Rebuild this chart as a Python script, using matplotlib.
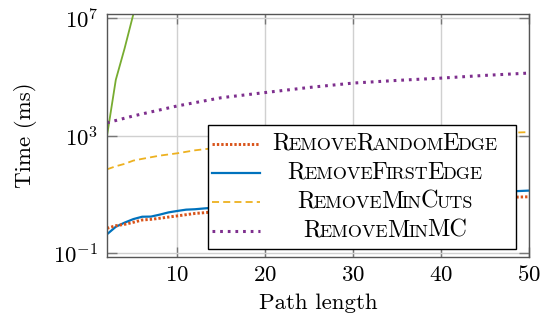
import numpy as np
import matplotlib
matplotlib.use("Agg")
import matplotlib.pyplot as plt
from matplotlib.patches import Rectangle
from matplotlib.lines import Line2D
from matplotlib.offsetbox import TextArea, HPacker, AnnotationBbox

plt.rcParams['font.family'] = 'serif'
plt.rcParams['font.serif'] = ['cmr10']
plt.rcParams['mathtext.fontset'] = 'cm'
plt.rcParams['axes.formatter.use_mathtext'] = True
plt.rcParams['axes.unicode_minus'] = False

# ---- data ----
x_rand = [2, 3, 4, 5, 6, 7, 8, 10, 12, 14, 20, 30, 40, 50]
t_rand = [0.72, 0.88, 0.98, 1.15, 1.38, 1.45, 1.58, 1.9, 2.3, 2.57, 3.6, 5.4, 7.1, 8.5]

x_first = [2, 3, 4, 5, 6, 7, 8, 9, 10, 11, 12, 13, 14, 20, 30, 40, 48, 50]
t_first = [0.45, 0.81, 1.12, 1.48, 1.78, 1.8, 2.1, 2.5, 2.8, 3.1, 3.2, 3.4, 3.6, 5.0, 7.6, 10.5, 13.0, 13.8]

x_cuts = [2, 3, 4, 5, 6, 8, 10, 12, 14, 20, 30, 40, 50]
t_cuts = [73, 93, 112, 145, 166, 214, 257, 324, 380, 537, 794, 1070, 1350]

x_mc = [2, 5, 10, 15, 20, 25, 30, 35, 40, 45, 50]
t_mc = [2800, 4800, 10500, 20000, 30000, 44700, 63000, 77600, 93000, 115000, 138000]

x_green = [2, 3, 4, 5, 6]
t_green = [1000, 8.1e4, 9.5e5, 1.4e7, 2.0e8]

labels = ["RemoveRandomEdge", "RemoveFirstEdge", "RemoveMinCuts", "RemoveMinMC"]
xticks = [10, 20, 30, 40, 50]
yticks = [1e-1, 1e3, 1e7]

c_red = '#D95319'
c_blue = '#0072BD'
c_orange = '#EDB120'
c_purple = '#7E2F8E'
c_green = '#77AC30'

FS = 16.5

fig = plt.figure(figsize=(5.48, 3.22), dpi=100)
W, H = 548, 322
L, R, T, B = 107, 529, 14, 257
ax = fig.add_axes([L / W, 1 - B / H, (R - L) / W, (B - T) / H])

style_red = dict(color=c_red, lw=2.1, linestyle=(0, (0.8, 0.7)), dash_capstyle='butt')
style_blue = dict(color=c_blue, lw=1.6, linestyle='-')
style_orange = dict(color=c_orange, lw=1.3, linestyle=(0, (3.9, 2.3)), dash_capstyle='butt')
style_purple = dict(color=c_purple, lw=2.2, linestyle=(0, (0.9, 1.6)), dash_capstyle='butt')

ax.plot(x_green, t_green, color=c_green, lw=1.3, zorder=2)
ax.plot(x_mc, t_mc, zorder=2, **style_purple)
ax.plot(x_cuts, t_cuts, zorder=2, **style_orange)
ax.plot(x_first, t_first, zorder=2, **style_blue)
ax.plot(x_rand, t_rand, zorder=2, **style_red)

ax.set_yscale('log')
ax.set_xlim(2, 50)
ax.set_ylim(10 ** -1.12, 10 ** 7.15)
ax.set_xticks(xticks)
ax.set_yticks(yticks)
ax.yaxis.set_minor_locator(matplotlib.ticker.NullLocator())
ax.grid(True, color='#d0d0d0', lw=1.0)
ax.set_axisbelow(True)
ax.tick_params(direction='in', top=True, right=True, length=7, width=1.0,
               color='#777777', labelsize=FS, pad=6)
for s in ax.spines.values():
    s.set_color('#555555')
    s.set_linewidth(1.0)
ax.set_xlabel('Path length', fontsize=FS, labelpad=6)
ax.set_ylabel('Time (ms)', fontsize=FS, labelpad=12)


# ---- custom legend with small caps ----
def px2ax(px, py):
    return (px - L) / (R - L), (B - py) / (B - T)

x0, y0 = px2ax(208, 249)
x1, y1 = px2ax(516, 125)
ax.add_patch(Rectangle((x0, y0), x1 - x0, y1 - y0, transform=ax.transAxes,
                       facecolor='white', edgecolor='black', lw=1.0,
                       zorder=5, clip_on=False))


def smallcaps(text, big=17.5, small=13.0):
    runs = []
    cur = ''
    cur_up = None
    for ch in text:
        up = ch.isupper()
        if cur_up is None or up == cur_up:
            cur += ch
        else:
            runs.append((cur, cur_up))
            cur = ch
        cur_up = up
    runs.append((cur, cur_up))
    children = []
    for s, up in runs:
        if up:
            children.append(TextArea(s, textprops=dict(fontsize=big, color='black')))
        else:
            children.append(TextArea(s.upper(), textprops=dict(fontsize=small, color='black')))
    return HPacker(children=children, align='baseline', pad=0, sep=-1.0)


styles = [style_red, style_blue, style_orange, style_purple]
rows_py = [143.5, 172.5, 201.5, 230.5]
for lab, st, py in zip(labels, styles, rows_py):
    hx0, hy = px2ax(212, py)
    hx1, _ = px2ax(260, py)
    ax.add_line(Line2D([hx0, hx1], [hy, hy], transform=ax.transAxes,
                       zorder=6, clip_on=False, **st))
    tx, ty = px2ax(385, py)
    ab = AnnotationBbox(smallcaps(lab), (tx, ty), xycoords=ax.transAxes,
                        box_alignment=(0.5, 0.5), frameon=False, pad=0,
                        zorder=7, annotation_clip=False)
    ax.add_artist(ab)

fig.savefig('out.png', dpi=100)
